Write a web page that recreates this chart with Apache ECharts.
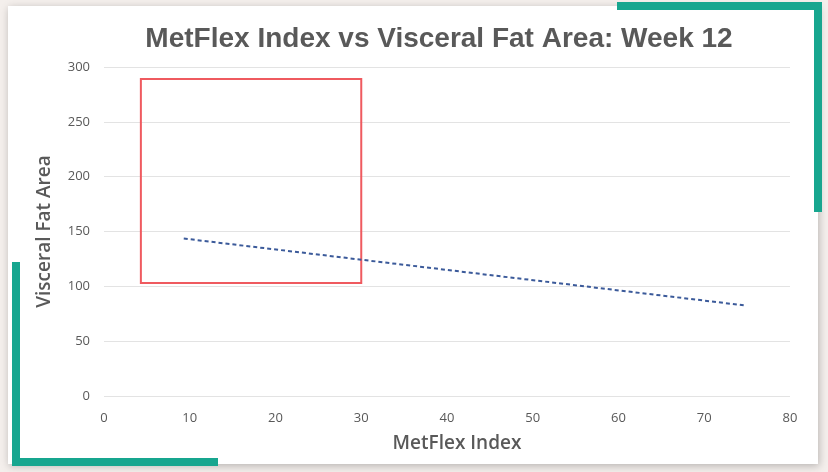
<!DOCTYPE html>
<html>
<head>
<meta charset="utf-8">
<script src="https://cdn.jsdelivr.net/npm/echarts@6/dist/echarts.min.js"></script>
<style>
  html, body { margin: 0; padding: 0; background: #f4efec; }
  #main { width: 828px; height: 472px; }
</style>
</head>
<body>
<div id="main"></div>
<script>
var chartDom = document.getElementById('main');
var myChart = echarts.init(chartDom);
var option;

// trend line end points (MetFlex Index, Visceral Fat Area)
var trendX = [9.3, 74.6];
var trendY = [143.6, 82.7];
// highlighted region
var boxX = [4.3, 30];
var boxY = [103, 289];

var xTicks = [0, 10, 20, 30, 40, 50, 60, 70, 80];
var yTicks = [0, 50, 100, 150, 200, 250, 300];

var teal = '#17a68f';
var textGrey = '#595959';

option = {
    backgroundColor: '#f4efec',
    graphic: [
        // white card
        { type: 'rect', shape: { x: 8, y: 6, width: 810, height: 458 },
          style: { fill: '#ffffff', shadowBlur: 8, shadowColor: 'rgba(0,0,0,0.25)', shadowOffsetX: 1, shadowOffsetY: 2 }, z: -10 },
        // top-right bracket
        { type: 'rect', shape: { x: 617, y: 2, width: 205, height: 8 }, style: { fill: teal } },
        { type: 'rect', shape: { x: 814, y: 2, width: 8, height: 210 }, style: { fill: teal } },
        // bottom-left bracket
        { type: 'rect', shape: { x: 12, y: 262, width: 8, height: 204 }, style: { fill: teal } },
        { type: 'rect', shape: { x: 12, y: 458, width: 206, height: 8 }, style: { fill: teal } }
    ],
    title: {
        text: 'MetFlex Index vs Visceral Fat Area: Week 12',
        left: 434,
        textAlign: 'center',
        top: 20,
        textStyle: {
            fontFamily: 'Liberation Sans',
            fontWeight: 'bold',
            fontSize: 28,
            color: textGrey
        }
    },
    grid: {
        left: 104,
        right: 38,
        top: 67,
        bottom: 76
    },
    xAxis: {
        type: 'value',
        min: xTicks[0],
        max: xTicks[xTicks.length - 1],
        interval: 10,
        name: 'MetFlex Index',
        nameLocation: 'middle',
        nameGap: 38,
        nameTextStyle: { fontFamily: 'Open Sans', fontWeight: 600, fontSize: 19, color: textGrey, padding: [0, 0, 0, 20] },
        axisLine: { show: false },
        axisTick: { show: false },
        splitLine: { show: false },
        axisLabel: { margin: 16, fontFamily: 'Open Sans', fontSize: 13, color: textGrey }
    },
    yAxis: {
        type: 'value',
        min: yTicks[0],
        max: yTicks[yTicks.length - 1],
        interval: 50,
        name: 'Visceral Fat Area',
        nameLocation: 'middle',
        nameGap: 50,
        nameTextStyle: { fontFamily: 'Open Sans', fontWeight: 600, fontSize: 19, color: textGrey },
        axisLine: { show: false },
        axisTick: { show: false },
        splitLine: { lineStyle: { color: '#e3e3e3', width: 1 } },
        axisLabel: { margin: 14, fontFamily: 'Open Sans', fontSize: 13, color: textGrey }
    },
    series: [{
        type: 'line',
        data: [[trendX[0], trendY[0]], [trendX[1], trendY[1]]],
        showSymbol: false,
        silent: true,
        lineStyle: { color: '#3b5a9a', width: 2, type: [4, 3] },
        markArea: {
            silent: true,
            itemStyle: { color: 'rgba(0,0,0,0)', borderColor: '#ef5a5f', borderWidth: 2 },
            data: [[{ coord: [boxX[0], boxY[1]] }, { coord: [boxX[1], boxY[0]] }]]
        }
    }]
};

option && myChart.setOption(option);
</script>
</body>
</html>
